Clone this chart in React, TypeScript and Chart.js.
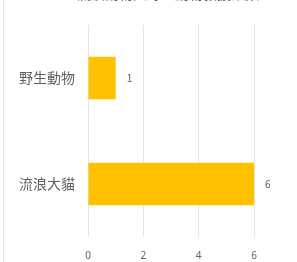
import React, { useEffect, useRef } from "react";
import { Chart, registerables } from "chart.js";

Chart.register(...registerables);

const titleText = "流浪動物與野生動物救援案數";
const categories = ["野生動物", "流浪大貓"];
const values = [1, 6];
const xTicks = [0, 2, 4, 6];

const barColor = "#FFC000";
const textColor = "#606060";
const gridColor = "#e4e4e4";

const valueLabels = {
  id: "valueLabels",
  afterDatasetsDraw(chart: any) {
    const ctx = chart.ctx;
    const meta = chart.getDatasetMeta(0);
    ctx.save();
    ctx.fillStyle = textColor;
    ctx.font = "10px 'Noto Sans CJK TC', 'Noto Sans', sans-serif";
    ctx.textAlign = "left";
    ctx.textBaseline = "middle";
    meta.data.forEach((bar: any, i: number) => {
      ctx.fillText(String(values[i]), bar.x + 11, bar.y);
    });
    ctx.restore();
  },
};

const clippedTitle = {
  id: "clippedTitle",
  afterDraw(chart: any) {
    const ctx = chart.ctx;
    ctx.save();
    ctx.fillStyle = textColor;
    ctx.font = "14px 'Noto Sans CJK TC', sans-serif";
    ctx.textAlign = "center";
    ctx.textBaseline = "alphabetic";
    ctx.fillText(titleText, 168, 13);
    ctx.restore();
  },
};

export default function App() {
  const ref = useRef<HTMLCanvasElement | null>(null);
  useEffect(() => {
    if (!ref.current) return;
    const chart = new Chart(ref.current, {
      type: "bar",
      data: {
        labels: categories,
        datasets: [
          {
            data: values,
            backgroundColor: barColor,
            borderWidth: 0,
            categoryPercentage: 0.8,
            barPercentage: 0.5,
          },
        ],
      },
      options: {
        indexAxis: "y",
        animation: false,
        responsive: false,
        maintainAspectRatio: false,
        layout: { padding: { left: 0, right: 43, top: 39, bottom: 0 } },
        plugins: {
          legend: { display: false },
          tooltip: { enabled: false },
          title: { display: false },
        },
        scales: {
          x: {
            min: 0,
            max: 6,
            afterBuildTicks: (s: any) => {
              s.ticks = xTicks.map((v) => ({ value: v }));
            },
            afterFit: (s: any) => {
              s.height = 25;
            },
            grid: { color: gridColor, drawTicks: false },
            border: { display: false },
            ticks: {
              color: textColor,
              padding: 13,
              font: { size: 10, family: "'Noto Sans', sans-serif" },
            },
          },
          y: {
            afterFit: (s: any) => {
              s.width = 88;
            },
            grid: { display: false, drawTicks: false },
            border: { display: false },
            ticks: {
              color: textColor,
              padding: 13,
              font: { size: 14, family: "'Noto Sans CJK TC', sans-serif" },
            },
          },
        },
      },
      plugins: [valueLabels, clippedTitle],
    });
    return () => chart.destroy();
  }, []);

  return (
    <div
      style={{
        position: "fixed",
        left: 0,
        top: 0,
        width: 297,
        height: 262,
        overflow: "hidden",
        background: "#fff",
      }}
    >
      <div
        style={{
          position: "absolute",
          left: 3,
          top: 0,
          width: 1,
          height: 262,
          background: "#e8e8e8",
        }}
      />
      <canvas
        ref={ref}
        width={297}
        height={276}
        style={{ position: "absolute", left: 0, top: -14, width: 297, height: 276 }}
      />
    </div>
  );
}
